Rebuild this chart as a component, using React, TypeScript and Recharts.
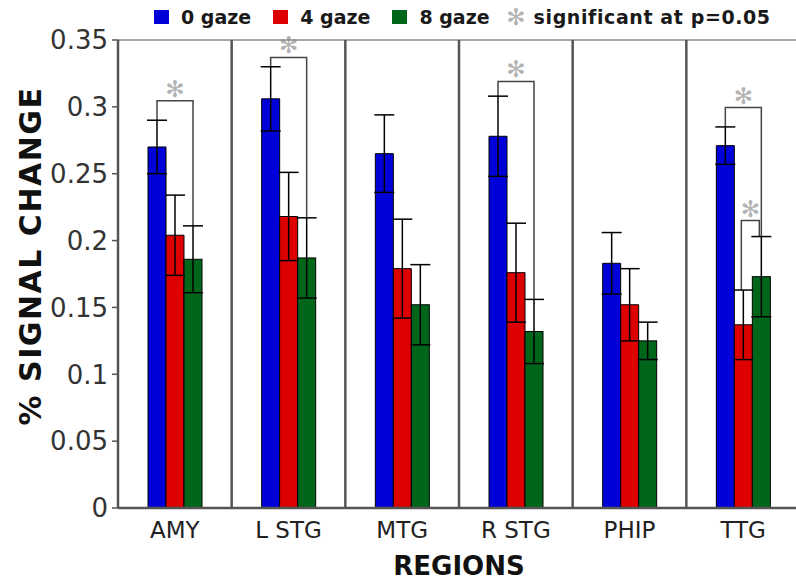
import { BarChart, Bar, XAxis, YAxis, ErrorBar, ReferenceLine, Legend, Label } from 'recharts'

const regions = ['AMY', 'L STG', 'MTG', 'R STG', 'PHIP', 'TTG']
const gaze0 = [0.27, 0.306, 0.265, 0.278, 0.183, 0.271]
const gaze0Err = [0.02, 0.024, 0.029, 0.03, 0.023, 0.014]
const gaze4 = [0.204, 0.218, 0.179, 0.176, 0.152, 0.137]
const gaze4Err = [0.03, 0.033, 0.037, 0.037, 0.027, 0.026]
const gaze8 = [0.186, 0.187, 0.152, 0.132, 0.125, 0.173]
const gaze8Err = [0.025, 0.03, 0.03, 0.024, 0.014, 0.03]
const yTicks = [0, 0.05, 0.1, 0.15, 0.2, 0.25, 0.3, 0.35]

// significance brackets: region, from bar, to bar (0 = 0 gaze ... 2 = 8 gaze), bracket height
const sigRegions = ['AMY', 'L STG', 'R STG', 'TTG', 'TTG']
const sigFrom = [0, 0, 0, 0, 1]
const sigTo = [2, 2, 2, 2, 2]
const sigLevel = [0.3045, 0.337, 0.319, 0.2995, 0.215]

const seriesNames = ['0 gaze', '4 gaze', '8 gaze']
const colors = ['#0000d8', '#dd0000', '#00661a']

const data = regions.map((region, i) => ({
  region,
  g0: gaze0[i],
  e0: gaze0Err[i],
  g4: gaze4[i],
  e4: gaze4Err[i],
  g8: gaze8[i],
  e8: gaze8Err[i],
}))

const FONT = '"DejaVu Sans", Verdana, sans-serif'
const AXIS = '#555'

function StarMark({ x, y }: { x: number; y: number }) {
  return (
    <text x={x} y={y} textAnchor="middle" dominantBaseline="central" fontSize={23} fill="#b3b3b3" fontFamily={FONT}>
      ✻
    </text>
  )
}

// last bar of each group also draws the brackets, using its own geometry as the y scale
function GreenWithBrackets(props: any) {
  const { x, y, width, height, payload } = props
  const base = y + height
  const perUnit = height / payload.g8
  const yOf = (v: number) => base - v * perUnit
  const centers = [x + width / 2 - 2 * width, x + width / 2 - width, x + width / 2]
  const vals = [payload.g0, payload.g4, payload.g8]
  const errs = [payload.e0, payload.e4, payload.e8]
  const marks: any[] = []
  sigRegions.forEach((r, k) => {
    if (r !== payload.region) return
    const a = sigFrom[k]
    const b = sigTo[k]
    const inset = b - a === 1 ? 2 : 0
    const xa = centers[a] - inset
    const xb = centers[b] - inset
    const yl = yOf(sigLevel[k])
    marks.push(
      <g key={k}>
        <path
          d={`M${xa},${yOf(vals[a] + errs[a])}V${yl}H${xb}V${yOf(vals[b] + errs[b])}`}
          fill="none"
          stroke="#444"
          strokeWidth={1.5}
        />
        <StarMark x={(xa + xb) / 2} y={yl - 12} />
      </g>
    )
  })
  return (
    <g>
      <rect x={x} y={y} width={width} height={height} fill={colors[2]} stroke="#000" strokeWidth={1} />
      {marks}
    </g>
  )
}

function renderLegend() {
  return (
    <div style={{ display: 'flex', alignItems: 'center', fontFamily: FONT, fontWeight: 'bold', fontSize: 19, color: '#1a1a1a' }}>
      {seriesNames.map((name, i) => (
        <div key={name} style={{ display: 'flex', alignItems: 'center', marginRight: 22 }}>
          <div style={{ width: 15, height: 14, background: colors[i], marginRight: 12 }} />
          <span>{name}</span>
        </div>
      ))}
      <svg width={20} height={24} style={{ marginRight: 8, marginLeft: -6 }}>
        <StarMark x={10} y={12} />
      </svg>
      <span style={{ letterSpacing: 0.6 }}>significant at p=0.05</span>
    </div>
  )
}

function YTitle(props: any) {
  const { viewBox } = props
  const cx = viewBox.x + 30
  const cy = viewBox.y + viewBox.height / 2 - 18
  return (
    <text
      x={cx}
      y={cy}
      transform={`rotate(-90 ${cx} ${cy})`}
      textAnchor="middle"
      dominantBaseline="central"
      fontFamily={FONT}
      fontWeight="bold"
      fontSize={30}
      letterSpacing={1.5}
      fill="#111"
    >
      % SIGNAL CHANGE
    </text>
  )
}

function XTitle(props: any) {
  const { viewBox } = props
  return (
    <text
      x={viewBox.x + viewBox.width / 2}
      y={566}
      textAnchor="middle"
      dominantBaseline="central"
      fontFamily={FONT}
      fontWeight="bold"
      fontSize={26}
      fill="#111"
    >
      REGIONS
    </text>
  )
}

export default function App() {
  return (
    <div style={{ position: 'absolute', left: 0, top: 0, width: 796, height: 585, overflow: 'hidden', background: '#fff', fontFamily: FONT }}>
      <BarChart width={804} height={585} data={data} margin={{ top: 40, right: 4, bottom: 0, left: 0 }} barSize={18} barGap={0}>
        <XAxis
          dataKey="region"
          height={77}
          tickLine={false}
          tickSize={0}
          tickMargin={14}
          axisLine={{ stroke: AXIS, strokeWidth: 2.5 }}
          tick={{ fill: '#222', fontSize: 23, fontFamily: FONT }}
          interval={0}
        >
          <Label content={XTitle} />
        </XAxis>
        <YAxis
          width={118}
          domain={[0, 0.35]}
          ticks={yTicks}
          interval={0}
          tickSize={6}
          tickMargin={4}
          axisLine={{ stroke: AXIS, strokeWidth: 2.5 }}
          tickLine={{ stroke: AXIS, strokeWidth: 1.5 }}
          tick={{ fill: '#333', fontSize: 26, fontFamily: FONT }}
        >
          <Label content={YTitle} />
        </YAxis>
        <ReferenceLine y={0.35} stroke="#888" strokeWidth={1.5} />
        {regions.slice(1).map((r) => (
          <ReferenceLine key={r} x={r} position="start" stroke={AXIS} strokeWidth={2.5} />
        ))}
        <Bar dataKey="g0" name={seriesNames[0]} fill={colors[0]} stroke="#000" strokeWidth={1} isAnimationActive={false}>
          <ErrorBar dataKey="e0" width={10} stroke="#000" strokeWidth={1.5} />
        </Bar>
        <Bar dataKey="g4" name={seriesNames[1]} fill={colors[1]} stroke="#000" strokeWidth={1} isAnimationActive={false}>
          <ErrorBar dataKey="e4" width={10} stroke="#000" strokeWidth={1.5} />
        </Bar>
        <Bar dataKey="g8" name={seriesNames[2]} fill={colors[2]} shape={GreenWithBrackets} isAnimationActive={false}>
          <ErrorBar dataKey="e8" width={10} stroke="#000" strokeWidth={1.5} />
        </Bar>
        <Legend verticalAlign="middle" content={renderLegend} wrapperStyle={{ top: 5, left: 154, width: 640 }} />
      </BarChart>
    </div>
  )
}
